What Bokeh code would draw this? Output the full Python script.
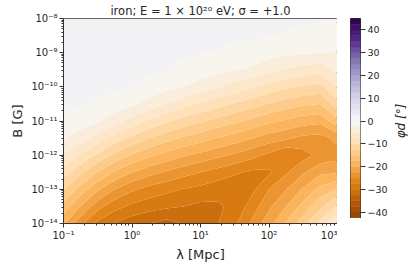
import numpy as np
from bokeh.plotting import figure
from bokeh.layouts import row
from bokeh.models import Range1d, FixedTicker, ColumnDataSource
from bokeh.embed import file_html
from bokeh.resources import INLINE

# ---- data ----
# grid: log10(lambda / Mpc) and log10(B / G)
log_lambda = [-1.0, -0.75, -0.5, -0.25, 0.0, 0.25, 0.5, 0.75, 1.0,
              1.25, 1.5, 1.75, 2.0, 2.25, 2.5, 2.75, 3.0]
log_B = [-14.0, -13.5, -13.0, -12.5, -12.0, -11.5, -11.0, -10.5, -10.0, -9.5, -9.0, -8.5, -8.0]

# phi_d [deg] along B (from 1e-14 up to 1e-8 G), one list per lambda column
phi_l_m100 = [-19.5, -15.95, -12.41, -8.87, -5.33, -2.17, -0.53, 0.5, 0.8, 1.0, 1.0, 1.0, 1.0]
phi_l_m075 = [-24.3, -20.13, -16.03, -11.93, -7.83, -3.73, -1.25, 0.25, 0.75, 1.0, 1.0, 1.0, 1.0]
phi_l_m050 = [-28.2, -24.1, -19.6, -15.1, -10.6, -6.1, -2.12, -0.19, 0.65, 0.95, 1.0, 1.0, 1.0]
phi_l_m025 = [-30.2, -26.6, -22.49, -17.84, -13.19, -8.54, -3.89, -1.11, 0.35, 0.85, 1.0, 1.0, 1.0]
phi_l_p000 = [-31.5, -28.13, -24.54, -19.91, -15.28, -10.65, -6.02, -2.02, 0.03, 0.7, 0.95, 1.0, 1.0]
phi_l_p025 = [-32.4, -28.96, -25.88, -21.55, -17.02, -12.48, -7.95, -3.41, -0.89, 0.45, 0.85, 1.0, 1.0]
phi_l_p050 = [-33.5, -29.5, -26.79, -22.8, -18.38, -13.97, -9.56, -5.15, -1.73, 0.1, 0.75, 0.95, 1.0]
phi_l_p075 = [-32.4, -30.0, -27.64, -23.96, -19.64, -15.31, -10.99, -6.66, -2.43, -0.64, 0.4, 0.85, 1.0]
phi_l_p100 = [-31.3, -30.6, -28.25, -25.0, -20.7, -16.4, -12.1, -7.8, -3.53, -1.28, 0.15, 0.7, 0.9]
phi_l_p125 = [-30.1, -30.4, -29.0, -25.98, -21.86, -17.6, -13.37, -9.12, -4.88, -1.77, -0.1, 0.55, 0.85]
phi_l_p150 = [-28.0, -29.3, -29.6, -27.08, -22.9, -18.68, -14.47, -10.25, -6.04, -2.23, -0.57, 0.45, 0.8]
phi_l_p175 = [-24.5, -26.35, -28.17, -27.99, -24.15, -19.9, -15.66, -11.41, -7.17, -2.93, -1.0, 0.35, 0.75]
phi_l_p200 = [-21.0, -23.0, -25.0, -27.9, -25.63, -21.18, -16.93, -12.69, -8.44, -4.2, -1.47, 0.15, 0.7]
phi_l_p225 = [-17.3, -19.96, -22.6, -25.3, -27.55, -22.06, -17.86, -13.66, -9.47, -5.27, -1.91, -0.17, 0.55]
phi_l_p250 = [-13.5, -16.6, -19.73, -22.83, -25.96, -23.13, -18.87, -14.6, -10.34, -6.08, -2.23, -0.51, 0.35]
phi_l_p275 = [-9.3, -13.0, -16.75, -20.5, -24.25, -23.48, -19.25, -15.02, -10.79, -6.56, -2.43, -0.77, 0.25]
phi_l_p300 = [-4.2, -9.58, -14.79, -20.3, -23.47, -21.6, -15.8, -10.95, -7.18, -4.42, -2.61, -0.97, 0.3]

levels = [-45 + 2.5 * i for i in range(37)]
cbar_ticks = [-40, -30, -20, -10, 0, 10, 20, 30, 40]
x_ticks = [-1, 0, 1, 2, 3]
x_tick_labels = ["10⁻¹", "10⁰", "10¹", "10²", "10³"]
y_ticks = [-14, -13, -12, -11, -10, -9, -8]
y_tick_labels = ["10⁻¹⁴", "10⁻¹³", "10⁻¹²", "10⁻¹¹", "10⁻¹⁰", "10⁻⁹", "10⁻⁸"]

# ---- colours: PuOr colormap ----
anchors = ["#7f3b08", "#b35806", "#e08214", "#fdb863", "#fee0b6", "#f7f7f7",
           "#d8daeb", "#b2abd2", "#8073ac", "#542788", "#2d004b"]
arr = np.array([[int(h[i:i + 2], 16) for i in (1, 3, 5)] for h in anchors], float)
pos = np.linspace(0, 1, len(anchors))


def cmap(t):
    rgb = [np.interp(t, pos, arr[:, k]) for k in range(3)]
    return "#%02x%02x%02x" % tuple(int(round(c)) for c in rgb)


lv = np.array(levels)
mids = 0.5 * (lv[:-1] + lv[1:])
colors = [cmap((m - lv[0]) / (lv[-1] - lv[0])) for m in mids]

Z = np.array([phi_l_m100, phi_l_m075, phi_l_m050, phi_l_m025, phi_l_p000, phi_l_p025,
              phi_l_p050, phi_l_p075, phi_l_p100, phi_l_p125, phi_l_p150, phi_l_p175,
              phi_l_p200, phi_l_p225, phi_l_p250, phi_l_p275, phi_l_p300]).T
X, Y = np.meshgrid(np.array(log_lambda), np.array(log_B))

FONT = "DejaVu Sans"
TXT = "#262626"
LINE = "#333333"

p = figure(frame_width=274, frame_height=205, output_backend="svg", toolbar_location=None,
           x_range=Range1d(-1, 3), y_range=Range1d(-14, -8),
           min_border_left=42, min_border_right=0, min_border_top=11, min_border_bottom=2)
p.background_fill_color = "white"
p.border_fill_color = "white"
p.grid.visible = False
p.outline_line_color = LINE
p.outline_line_width = 1

cr = p.contour(X, Y, Z, levels=levels, fill_color=colors)
src = cr.fill_renderer.data_source
g = cr.fill_renderer.glyph
if "fill_color" in src.data:
    g.line_color = "fill_color"
    g.line_width = 0.6
else:
    g.line_color = None

p.title.text = "iron; E = 1 × 10²⁰ eV; σ = +1.0"
p.title.align = "center"
p.title.text_font = FONT
p.title.text_font_size = "11.5px"
p.title.text_font_style = "normal"
p.title.text_color = TXT
p.title.standoff = 2
p.title.offset = 0

minor_x = [float(np.log10(k * 10.0 ** n)) for n in range(-1, 3) for k in range(2, 10)]
minor_y = [float(np.log10(k * 10.0 ** n)) for n in range(-14, -8) for k in range(2, 10)]

for ax, ticks, labels, minor, lab in [
        (p.xaxis[0], x_ticks, x_tick_labels, minor_x, "λ [Mpc]"),
        (p.yaxis[0], y_ticks, y_tick_labels, minor_y, "B [G]")]:
    ax.ticker = FixedTicker(ticks=ticks, minor_ticks=minor)
    ax.major_label_overrides = {t: s for t, s in zip(ticks, labels)}
    ax.axis_label = lab
    ax.axis_label_text_font = FONT
    ax.axis_label_text_font_size = "13px"
    ax.axis_label_text_font_style = "normal"
    ax.axis_label_text_color = TXT
    ax.axis_label_standoff = 3
    ax.major_label_text_font = FONT
    ax.major_label_text_font_size = "10px"
    ax.major_label_text_color = TXT
    ax.major_label_standoff = 2
    ax.axis_line_color = LINE
    ax.major_tick_line_color = LINE
    ax.minor_tick_line_color = LINE
    ax.major_tick_in = 0
    ax.major_tick_out = 4
    ax.minor_tick_in = 0
    ax.minor_tick_out = 2

# ---- colour bar as its own small figure ----
cb = figure(frame_width=10, frame_height=205, output_backend="svg", toolbar_location=None,
            x_range=Range1d(0, 1), y_range=Range1d(levels[0], levels[-1]),
            x_axis_location=None, y_axis_location="right",
            min_border_left=13, min_border_right=0, min_border_top=11, min_border_bottom=2)
cb.grid.visible = False
cb.outline_line_color = LINE
cb.outline_line_width = 1
cb.background_fill_color = "white"
cb.border_fill_color = "white"
band_src = ColumnDataSource(dict(bottom=levels[:-1], top=levels[1:], color=colors))
cb.quad(left=0, right=1, bottom="bottom", top="top", fill_color="color",
        line_color="color", line_width=0.5, source=band_src)
cax = cb.yaxis[0]
cax.ticker = FixedTicker(ticks=cbar_ticks)
cax.major_label_overrides = {t: str(t).replace("-", "−") for t in cbar_ticks}
cax.major_label_text_font = FONT
cax.major_label_text_font_size = "9.5px"
cax.major_label_text_color = TXT
cax.major_label_standoff = 2
cax.axis_line_color = None
cax.major_tick_line_color = LINE
cax.major_tick_in = 0
cax.major_tick_out = 5
cax.minor_tick_line_color = None

# ---- colour-bar label: a left axis label reads bottom-to-top ----
lab = figure(frame_width=1, frame_height=205, output_backend="svg", toolbar_location=None,
             x_range=Range1d(0, 1), y_range=Range1d(0, 1),
             x_axis_location=None, y_axis_location="left",
             min_border_left=0, min_border_right=0, min_border_top=11, min_border_bottom=2)
lab.grid.visible = False
lab.outline_line_color = None
lab.background_fill_color = "white"
lab.border_fill_color = "white"
lax = lab.yaxis[0]
lax.ticker = FixedTicker(ticks=[])
lax.axis_line_color = None
lax.major_tick_line_color = None
lax.minor_tick_line_color = None
lax.major_tick_out = 0
lax.minor_tick_out = 0
lax.axis_label = "φd [°]"
lax.axis_label_text_font = FONT
lax.axis_label_text_font_size = "12px"
lax.axis_label_text_font_style = "italic"
lax.axis_label_text_color = TXT
lax.axis_label_standoff = 0

layout = row(p, cb, lab, spacing=0, margin=(0, 0, 0, 7))
open("out.html", "w").write(file_html(layout, INLINE))
